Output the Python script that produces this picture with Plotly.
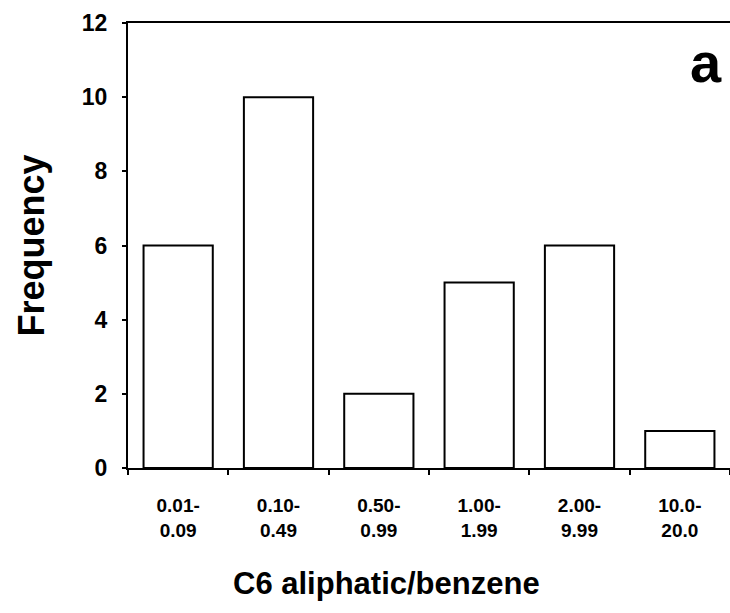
import plotly.graph_objects as go

categories = ["0.01-<br>0.09", "0.10-<br>0.49", "0.50-<br>0.99", "1.00-<br>1.99", "2.00-<br>9.99", "10.0-<br>20.0"]
frequency = [6, 10, 2, 5, 6, 1]
y_ticks = [0, 2, 4, 6, 8, 10, 12]
x_title = "C6 aliphatic/benzene"
y_title = "Frequency"
panel_label = "a"

FONT = "Liberation Sans, Arial, sans-serif"

fig = go.Figure()
fig.add_trace(go.Bar(
    x=categories, y=frequency,
    marker=dict(color="white", line=dict(color="black", width=2)),
    showlegend=False,
))

fig.update_layout(
    width=730, height=613,
    margin=dict(l=128, r=0, t=23, b=145),
    paper_bgcolor="white", plot_bgcolor="white",
    bargap=0.31,
    font=dict(family=FONT, color="black"),
    xaxis=dict(
        type="category",
        range=[-0.5, 5.5],
        showline=True, linecolor="black", linewidth=2, mirror=True,
        ticks="outside", tickson="boundaries", ticklen=5, tickwidth=1.5, tickcolor="black",
        tickfont=dict(size=19, family=FONT, weight="bold"),
        ticklabelstandoff=19,
        showgrid=False, zeroline=False,
    ),
    yaxis=dict(
        range=[0, 12],
        tickvals=y_ticks,
        showline=True, linecolor="black", linewidth=2,
        ticks="outside", ticklen=4, tickwidth=1.5, tickcolor="black",
        tickfont=dict(size=23, family=FONT, weight="bold"),
        ticklabelstandoff=10,
        showgrid=False, zeroline=False,
        title=dict(text=y_title, font=dict(size=36, family=FONT, weight="bold"), standoff=26),
    ),
    annotations=[
        dict(text=x_title, xref="paper", yref="paper", x=0.43, y=-0.26,
             xanchor="center", yanchor="middle", showarrow=False,
             font=dict(size=31, family=FONT, weight="bold")),
        dict(text=panel_label, xref="paper", yref="paper", x=0.96, y=0.912,
             xanchor="center", yanchor="middle", showarrow=False,
             font=dict(size=56, family=FONT, weight="bold")),
    ],
)

fig.write_html("out.html")
